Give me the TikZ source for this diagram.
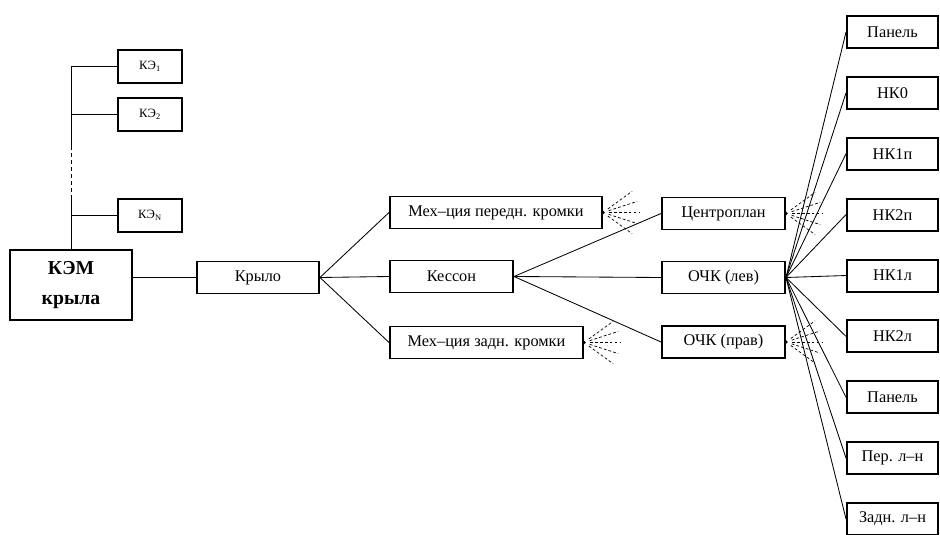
\documentclass[tikz,border=0pt]{standalone}
\usepackage{fontspec}
\setmainfont{Liberation Serif}
\usetikzlibrary{positioning,calc}
\tikzset{block/.style={draw, line width=1.4pt, rectangle, fill=white,
		minimum height=0.8cm, inner sep=1pt, font=\fontsize{11.6}{13}\selectfont},
	keblock/.style={block, minimum width=1.6cm, minimum height=0.825cm, font=\fontsize{9}{10}\selectfont},
	rblock/.style={block, minimum width=2.275cm},
	line/.style={draw,line width=0.6pt,-},
	fanline/.style={draw,line width=0.5pt,dash pattern=on 2pt off 1.5pt}}

\begin{document}
\begin{tikzpicture}[node distance=1.522cm]
		\useasboundingbox (0,0) rectangle (23.5,-13.375);
		\node [block, minimum width=3.05cm, minimum height=1.75cm, align=center,
			font=\fontsize{14}{21}\selectfont\bfseries] (kem) at (1.775,-7.125) {КЭМ\\крыла};
		\node [keblock] (ke1) at (3.75,-1.6625) {КЭ\textsubscript{1}};
		\node [keblock] (ke2) at (3.75,-2.8625) {КЭ\textsubscript{2}};
		\node [keblock] (ken) at (3.75,-5.3875) {КЭ\textsubscript{N}};
		
		\node [block, minimum width=3.05cm] (wing) at (6.45,-6.9375) {Крыло};
		\node [block, minimum width=5.3cm] (lemech) at (12.4,-5.3125) {Мех–ция передн. кромки};
		\node [block, minimum width=3.075cm] (caisson) at (11.2875,-6.9125) {Кессон};
		\node [block, minimum width=4.825cm] (temech) at (12.1625,-8.5625) {Мех–ция задн. кромки};
		
		\node [block, minimum width=3.075cm] (center) at (18.0875,-5.3375) {Центроплан};
		\node [block, minimum width=3.075cm] (ochkl) at (18.0875,-6.9375) {ОЧК (лев)};
		\node [block, minimum width=3.075cm] (ochkr) at (18.0875,-8.55) {ОЧК (прав)};
		
		\node [rblock] (panel1) at (22.3125,-0.8) {Панель};
		\node [rblock, below of=panel1] (nk0) {НК0};
		\node [rblock, below of=nk0] (nk1p) {НК1п};
		\node [rblock, below of=nk1p] (nk2p) {НК2п};
		\node [rblock, below of=nk2p] (nk1l) {НК1л};
		\node [rblock, below of=nk1l] (nk2l) {НК2л};
		\node [rblock, below of=nk2l] (panel2) {Панель};
		\node [rblock, below of=panel2] (perln) {Пер. л–н};
		\node [rblock, below of=perln] (zadln) {Задн. л–н};
		
		% element list
		\coordinate (vtop) at (kem.north |- ke1);
		\coordinate (dashtop) at ($(kem.north)+(0,2.575)$);
		\coordinate (dashbot) at ($(kem.north)+(0,1.25)$);
		\draw [line] (vtop)--(dashtop);
		\draw [line, dash pattern=on 3pt off 2pt] (dashtop)--(dashbot);
		\draw [line] (dashbot)--(kem.north);
		\draw [line] (vtop)--(ke1.west);
		\draw [line] (kem.north |- ke2)--(ke2.west);
		\draw [line] (kem.north |- ken)--(ken.west);
		
		% tree
		\draw [line] (kem.east |- wing)--(wing.west);
		\draw [line] (wing.east)--(lemech.west);
		\draw [line] (wing.east)--(caisson.west);
		\draw [line] (wing.east)--(temech.west);
		\draw [line] (caisson.east)--(center.west);
		\draw [line] (caisson.east)--(ochkl.west);
		\draw [line] (caisson.east)--(ochkr.west);
		\foreach \n in {panel1,nk0,nk1p,nk2p,nk1l,nk2l,panel2,perln,zadln}
			\draw [line] (ochkl.east)--(\n.west);
		
		% not expanded
		\foreach \n in {lemech,temech,center,ochkr}{
			\fill (\n.east) circle (1.3pt);
			\foreach \a in {-36,-18,0,18,36}
				\draw [fanline] ($(\n.east)+(\a:0.15)$)--($(\n.east)+(\a:0.9)$);
		}
	\end{tikzpicture}
\end{document}
